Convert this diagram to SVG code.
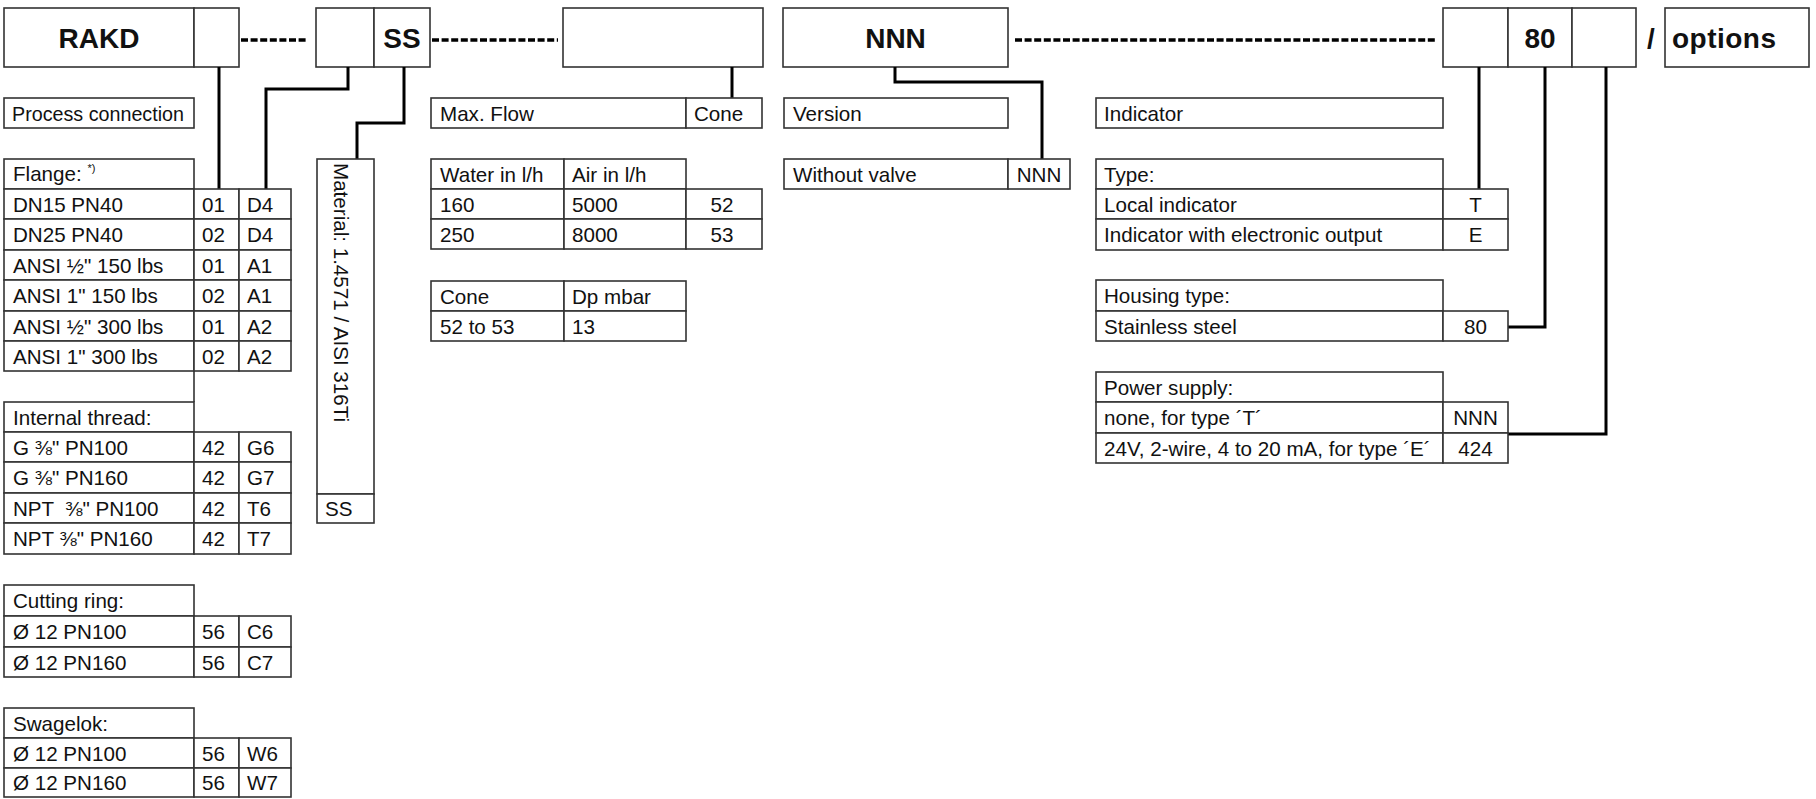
<svg xmlns="http://www.w3.org/2000/svg" width="1816" height="799" viewBox="0 0 1816 799">
<style>
rect, .cell { fill: #fff; stroke: #333; stroke-width: 1.6; }
.vl { stroke: #333; stroke-width: 1.6; fill: none; }
text { font-family: "Liberation Sans", Arial, Helvetica, sans-serif; font-size: 20.6px; fill: #111; }
.b { font-weight: bold; font-size: 28px; }
.c { text-anchor: middle; }
.pre { white-space: pre; }
.conn { stroke: #000; stroke-width: 3; fill: none; }
.dash { stroke: #000; stroke-width: 3.5; stroke-dasharray: 7 2.6; fill: none; }
</style>
<rect x="0" y="0" width="1816" height="799" style="fill:#fff;stroke:none"/>

<!-- top code row -->
<g id="code-rakd"><rect x="4" y="8" width="190" height="59"/><text class="b c" x="99" y="48">RAKD</text></g>
<g id="code-conn"><rect x="194" y="8" width="45" height="59"/></g>
<g id="code-size"><rect x="316" y="8" width="58" height="59"/></g>
<g id="code-ss"><rect x="374" y="8" width="56" height="59"/><text class="b c" x="402" y="48">SS</text></g>
<g id="code-cone"><rect x="563" y="8" width="200" height="59"/></g>
<g id="code-nnn"><rect x="783" y="8" width="225" height="59"/><text class="b c" x="895.5" y="48">NNN</text></g>
<g id="code-type"><rect x="1443" y="8" width="65" height="59"/></g>
<g id="code-80"><rect x="1508" y="8" width="64" height="59"/><text class="b c" x="1540" y="48">80</text></g>
<g id="code-power"><rect x="1572" y="8" width="64" height="59"/></g>
<g id="slash"><text class="b c" x="1651" y="48">/</text></g>
<g id="code-options"><rect x="1665" y="8" width="144" height="59"/><text class="b" x="1672" y="48" textLength="104">options</text></g>

<!-- connectors -->
<g id="connectors">
<path class="dash" d="M241 40 H307"/>
<path class="dash" d="M432 40 H558"/>
<path class="dash" d="M1015 40 H1435"/>
<path class="conn" d="M219 67 V189"/>
<path class="conn" d="M348 67 V89 H266 V189"/>
<path class="conn" d="M404 67 V123 H357 V159"/>
<path class="conn" d="M732 67 V98"/>
<path class="conn" d="M895 67 V82 H1042 V159"/>
<path class="conn" d="M1479 67 V189"/>
<path class="conn" d="M1545 67 V327 H1508"/>
<path class="conn" d="M1606 67 V434 H1508"/>
</g>

<!-- Process connection -->
<g id="process-connection"><rect x="4" y="98" width="190" height="30"/><text x="12" y="121" textLength="172" lengthAdjust="spacingAndGlyphs">Process connection</text></g>

<g id="flange">
<rect x="4" y="159" width="190" height="30"/><text x="13" y="181">Flange: <tspan font-size="11" dy="-9">*)</tspan></text>
<rect x="4" y="189" width="190" height="30"/><rect x="194" y="189" width="45" height="30"/><rect x="239" y="189" width="52" height="30"/>
<text x="13" y="212">DN15 PN40</text><text x="202" y="212">01</text><text x="247" y="212">D4</text>
<rect x="4" y="219" width="190" height="31"/><rect x="194" y="219" width="45" height="31"/><rect x="239" y="219" width="52" height="31"/>
<text x="13" y="242">DN25 PN40</text><text x="202" y="242">02</text><text x="247" y="242">D4</text>
<rect x="4" y="250" width="190" height="30"/><rect x="194" y="250" width="45" height="30"/><rect x="239" y="250" width="52" height="30"/>
<text x="13" y="273">ANSI ½" 150 lbs</text><text x="202" y="273">01</text><text x="247" y="273">A1</text>
<rect x="4" y="280" width="190" height="31"/><rect x="194" y="280" width="45" height="31"/><rect x="239" y="280" width="52" height="31"/>
<text x="13" y="303">ANSI 1" 150 lbs</text><text x="202" y="303">02</text><text x="247" y="303">A1</text>
<rect x="4" y="311" width="190" height="30"/><rect x="194" y="311" width="45" height="30"/><rect x="239" y="311" width="52" height="30"/>
<text x="13" y="334">ANSI ½" 300 lbs</text><text x="202" y="334">01</text><text x="247" y="334">A2</text>
<rect x="4" y="341" width="190" height="30"/><rect x="194" y="341" width="45" height="30"/><rect x="239" y="341" width="52" height="30"/>
<text x="13" y="364">ANSI 1" 300 lbs</text><text x="202" y="364">02</text><text x="247" y="364">A2</text>
<path class="vl" d="M194 371 V402"/>
</g>

<g id="internal-thread">
<rect x="4" y="402" width="190" height="30"/><text x="13" y="425">Internal thread:</text>
<rect x="4" y="432" width="190" height="30"/><rect x="194" y="432" width="45" height="30"/><rect x="239" y="432" width="52" height="30"/>
<text x="13" y="455">G ⅜" PN100</text><text x="202" y="455">42</text><text x="247" y="455">G6</text>
<rect x="4" y="462" width="190" height="31"/><rect x="194" y="462" width="45" height="31"/><rect x="239" y="462" width="52" height="31"/>
<text x="13" y="485">G ⅜" PN160</text><text x="202" y="485">42</text><text x="247" y="485">G7</text>
<rect x="4" y="493" width="190" height="30"/><rect x="194" y="493" width="45" height="30"/><rect x="239" y="493" width="52" height="30"/>
<text class="pre" x="13" y="516">NPT  ⅜" PN100</text><text x="202" y="516">42</text><text x="247" y="516">T6</text>
<rect x="4" y="523" width="190" height="31"/><rect x="194" y="523" width="45" height="31"/><rect x="239" y="523" width="52" height="31"/>
<text x="13" y="546">NPT ⅜" PN160</text><text x="202" y="546">42</text><text x="247" y="546">T7</text>
</g>

<g id="cutting-ring">
<rect x="4" y="585" width="190" height="31"/><text x="13" y="608">Cutting ring:</text>
<rect x="4" y="616" width="190" height="31"/><rect x="194" y="616" width="45" height="31"/><rect x="239" y="616" width="52" height="31"/>
<text x="13" y="639">Ø 12 PN100</text><text x="202" y="639">56</text><text x="247" y="639">C6</text>
<rect x="4" y="647" width="190" height="30"/><rect x="194" y="647" width="45" height="30"/><rect x="239" y="647" width="52" height="30"/>
<text x="13" y="670">Ø 12 PN160</text><text x="202" y="670">56</text><text x="247" y="670">C7</text>
</g>

<g id="swagelok">
<rect x="4" y="708" width="190" height="30"/><text x="13" y="731">Swagelok:</text>
<rect x="4" y="738" width="190" height="30"/><rect x="194" y="738" width="45" height="30"/><rect x="239" y="738" width="52" height="30"/>
<text x="13" y="761">Ø 12 PN100</text><text x="202" y="761">56</text><text x="247" y="761">W6</text>
<rect x="4" y="768" width="190" height="29"/><rect x="194" y="768" width="45" height="29"/><rect x="239" y="768" width="52" height="29"/>
<text x="13" y="790">Ø 12 PN160</text><text x="202" y="790">56</text><text x="247" y="790">W7</text>
</g>

<g id="material">
<rect x="317" y="159" width="57" height="335"/>
<text x="334" y="163" transform="rotate(90 334 163)">Material: 1.4571 / AISI 316Ti</text>
<rect x="317" y="494" width="57" height="29"/><text x="325" y="516">SS</text>
</g>

<g id="max-flow">
<rect x="431" y="98" width="255" height="30"/><rect x="686" y="98" width="76" height="30"/>
<text x="440" y="121">Max. Flow</text><text x="694" y="121">Cone</text>
</g>

<g id="flow-table">
<rect x="431" y="159" width="133" height="30"/><rect x="564" y="159" width="122" height="30"/>
<text x="440" y="182">Water in l/h</text><text x="572" y="182">Air in l/h</text>
<rect x="431" y="189" width="133" height="30"/><rect x="564" y="189" width="122" height="30"/><rect x="686" y="189" width="76" height="30"/>
<text x="440" y="212">160</text><text x="572" y="212">5000</text><text class="c" x="722" y="212">52</text>
<rect x="431" y="219" width="133" height="30"/><rect x="564" y="219" width="122" height="30"/><rect x="686" y="219" width="76" height="30"/>
<text x="440" y="242">250</text><text x="572" y="242">8000</text><text class="c" x="722" y="242">53</text>
</g>

<g id="dp-table">
<rect x="431" y="281" width="133" height="30"/><rect x="564" y="281" width="122" height="30"/>
<text x="440" y="304">Cone</text><text x="572" y="304">Dp mbar</text>
<rect x="431" y="311" width="133" height="30"/><rect x="564" y="311" width="122" height="30"/>
<text x="440" y="334">52 to 53</text><text x="572" y="334">13</text>
</g>

<g id="version">
<rect x="784" y="98" width="224" height="30"/><text x="793" y="121">Version</text>
</g>
<g id="without-valve">
<rect x="784" y="159" width="224" height="30"/><rect x="1008" y="159" width="62" height="30"/>
<text x="793" y="182">Without valve</text><text class="c" x="1039" y="182">NNN</text>
</g>

<g id="indicator">
<rect x="1096" y="98" width="347" height="30"/><text x="1104" y="121">Indicator</text>
</g>
<g id="type">
<rect x="1096" y="159" width="347" height="30"/><text x="1104" y="182">Type:</text>
<rect x="1096" y="189" width="347" height="30"/><rect x="1443" y="189" width="65" height="30"/>
<text x="1104" y="212">Local indicator</text><text class="c" x="1475.5" y="212">T</text>
<rect x="1096" y="219" width="347" height="31"/><rect x="1443" y="219" width="65" height="31"/>
<text x="1104" y="242">Indicator with electronic output</text><text class="c" x="1475.5" y="242">E</text>
</g>
<g id="housing">
<rect x="1096" y="280" width="347" height="31"/><text x="1104" y="303">Housing type:</text>
<rect x="1096" y="311" width="347" height="30"/><rect x="1443" y="311" width="65" height="30"/>
<text x="1104" y="334">Stainless steel</text><text class="c" x="1475.5" y="334">80</text>
</g>
<g id="power">
<rect x="1096" y="372" width="347" height="30"/><text x="1104" y="395">Power supply:</text>
<rect x="1096" y="402" width="347" height="31"/><rect x="1443" y="402" width="65" height="31"/>
<text x="1104" y="425">none, for type ´T´</text><text class="c" x="1475.5" y="425">NNN</text>
<rect x="1096" y="433" width="347" height="30"/><rect x="1443" y="433" width="65" height="30"/>
<text x="1104" y="456">24V, 2-wire, 4 to 20 mA, for type ´E´</text><text class="c" x="1475.5" y="456">424</text>
</g>
</svg>
